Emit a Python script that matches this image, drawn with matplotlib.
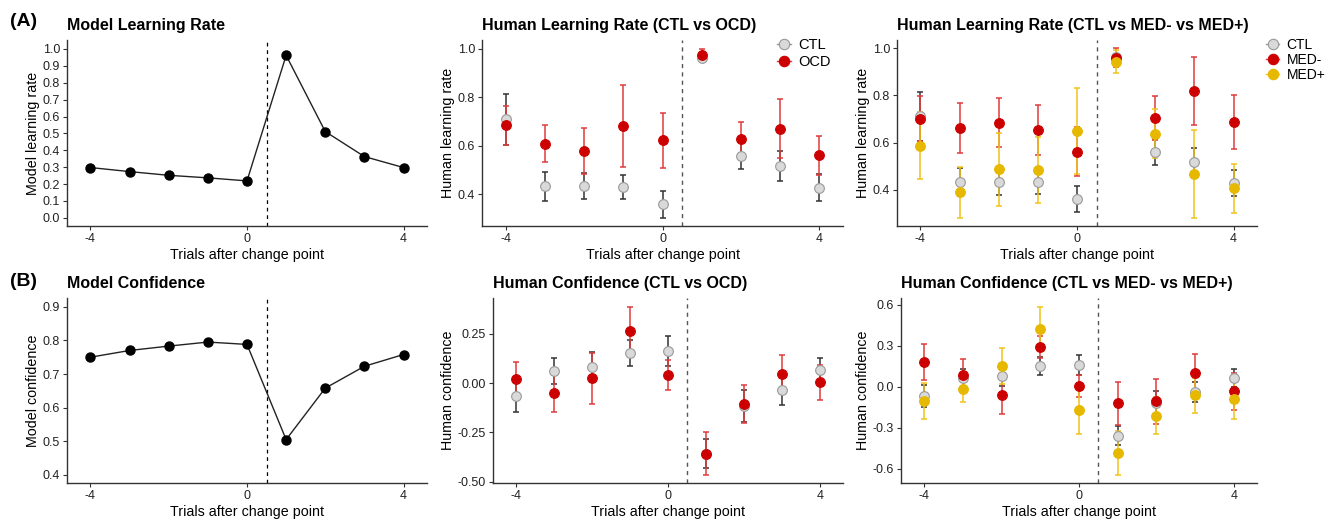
import matplotlib
matplotlib.use("Agg")
import matplotlib.pyplot as plt
from matplotlib.lines import Line2D

plt.rcParams['font.family'] = ['Liberation Sans', 'DejaVu Sans']
plt.rcParams['axes.unicode_minus'] = False

trials = [-4, -3, -2, -1, 0, 1, 2, 3, 4]

# model curves
model_lr = [0.298, 0.274, 0.252, 0.237, 0.219, 0.962, 0.511, 0.363, 0.298]
model_conf = [0.750, 0.770, 0.783, 0.795, 0.788, 0.505, 0.658, 0.723, 0.758]

# human learning rate: means and standard errors
lr_ctl = [0.711, 0.434, 0.434, 0.432, 0.360, 0.964, 0.560, 0.517, 0.428]
lr_ctl_se = [0.105, 0.060, 0.054, 0.049, 0.055, 0.012, 0.055, 0.062, 0.055]
lr_ocd = [0.685, 0.609, 0.579, 0.683, 0.624, 0.977, 0.627, 0.671, 0.562]
lr_ocd_se = [0.080, 0.077, 0.094, 0.168, 0.113, 0.023, 0.073, 0.121, 0.081]
lr_medm = [0.701, 0.661, 0.684, 0.655, 0.562, 0.959, 0.704, 0.820, 0.687]
lr_medm_se = [0.095, 0.106, 0.104, 0.106, 0.103, 0.040, 0.095, 0.144, 0.116]
lr_medp = [0.586, 0.389, 0.487, 0.484, 0.651, 0.943, 0.638, 0.467, 0.406]
lr_medp_se = [0.142, 0.107, 0.155, 0.140, 0.182, 0.050, 0.105, 0.186, 0.104]

# human confidence: means and standard errors
cf_ctl = [-0.065, 0.062, 0.081, 0.152, 0.162, -0.358, -0.117, -0.037, 0.065]
cf_ctl_se = [0.081, 0.066, 0.078, 0.065, 0.074, 0.072, 0.083, 0.072, 0.064]
cf_ocd = [0.021, -0.053, 0.023, 0.264, 0.040, -0.358, -0.107, 0.045, 0.003]
cf_ocd_se = [0.087, 0.094, 0.129, 0.123, 0.077, 0.109, 0.095, 0.097, 0.090]
cf_medm = [0.181, 0.083, -0.064, 0.289, 0.007, -0.122, -0.105, 0.100, -0.034]
cf_medm_se = [0.130, 0.120, 0.137, 0.080, 0.080, 0.155, 0.165, 0.140, 0.135]
cf_medp = [-0.105, -0.015, 0.152, 0.424, -0.171, -0.487, -0.211, -0.064, -0.091]
cf_medp_se = [0.130, 0.095, 0.133, 0.160, 0.174, 0.160, 0.134, 0.125, 0.148]

W, H = 1327, 520
fig = plt.figure(figsize=(W / 100, H / 100), dpi=100)

GREY_FILL = '#d9d9d9'
RED = '#cc0000'
GOLD = '#e6b800'


def make_ax(l, t, r, b):
    ax = fig.add_axes([l / W, 1 - b / H, (r - l) / W, (b - t) / H])
    for s in ['top', 'right']:
        ax.spines[s].set_visible(False)
    for s in ['left', 'bottom']:
        ax.spines[s].set_color('#333333')
        ax.spines[s].set_linewidth(1.0)
    ax.tick_params(labelsize=9, colors='#333333', length=3, width=0.8, pad=2)
    ax.tick_params(labelcolor='#222222')
    ax.set_xlim(-4.6, 4.6)
    ax.set_xticks([-4, 0, 4])
    ax.set_xlabel('Trials after change point', fontsize=10.3, labelpad=2)
    return ax


def model_panel(ax, values, title, ylabel):
    ax.axvline(0.5, color='black', ls='--', lw=0.9, dashes=(3, 3))
    ax.plot(trials, values, color='#222222', lw=1.0, marker='o', ms=6.5,
            mfc='black', mec='black', zorder=3)
    ax.set_title(title, loc='left', fontsize=11.5, fontweight='bold', pad=7)
    ax.set_ylabel(ylabel, fontsize=10.3, labelpad=2)


def group(ax, means, se, face, edge, ecol):
    ax.errorbar(trials, means, yerr=se, fmt='none', ecolor=ecol, elinewidth=1.1,
                capsize=2.5, capthick=1.1, zorder=2)
    ax.plot(trials, means, 'o', ms=7, mfc=face, mec=edge, mew=0.8, ls='none', zorder=3)


def human_panel(ax, title, ylabel):
    ax.axvline(0.5, color='#555555', ls='--', lw=1.0, dashes=(3, 3))
    ax.set_title(title, loc='left', fontsize=11.5, fontweight='bold', pad=7)
    ax.set_ylabel(ylabel, fontsize=10.3, labelpad=2)


# row A
ax1 = make_ax(67, 40, 427, 226)
model_panel(ax1, model_lr, 'Model Learning Rate', 'Model learning rate')
ax1.set_ylim(-0.048, 1.053)
ax1.set_yticks([i / 10 for i in range(11)])
ax1.set_yticklabels([f'{i / 10:.1f}' for i in range(11)])

ax2 = make_ax(482, 40, 843, 226)
human_panel(ax2, 'Human Learning Rate (CTL vs OCD)', 'Human learning rate')
group(ax2, lr_ctl, lr_ctl_se, GREY_FILL, '#999999', '#333333')
group(ax2, lr_ocd, lr_ocd_se, RED, RED, '#e03a3a')
ax2.set_ylim(0.27, 1.037)
ax2.set_yticks([0.4, 0.6, 0.8, 1.0])
ax2.set_yticklabels(['0.4', '0.6', '0.8', '1.0'])

ax3 = make_ax(897, 40, 1257, 226)
human_panel(ax3, 'Human Learning Rate (CTL vs MED- vs MED+)', 'Human learning rate')
group(ax3, lr_ctl, lr_ctl_se, GREY_FILL, '#999999', '#333333')
group(ax3, lr_medm, lr_medm_se, RED, RED, '#e03a3a')
group(ax3, lr_medp, lr_medp_se, GOLD, GOLD, '#f0c419')
ax3.set_ylim(0.247, 1.034)
ax3.set_yticks([0.4, 0.6, 0.8, 1.0])
ax3.set_yticklabels(['0.4', '0.6', '0.8', '1.0'])

# row B
ax4 = make_ax(67, 298, 427, 483)
model_panel(ax4, model_conf, 'Model Confidence', 'Model confidence')
ax4.set_ylim(0.376, 0.926)
ax4.set_yticks([0.4, 0.5, 0.6, 0.7, 0.8, 0.9])

ax5 = make_ax(493, 298, 843, 483)
human_panel(ax5, 'Human Confidence (CTL vs OCD)', 'Human confidence')
group(ax5, cf_ctl, cf_ctl_se, GREY_FILL, '#999999', '#333333')
group(ax5, cf_ocd, cf_ocd_se, RED, RED, '#e03a3a')
ax5.set_ylim(-0.507, 0.431)
ax5.set_yticks([-0.5, -0.25, 0.0, 0.25])
ax5.set_yticklabels(['-0.50', '-0.25', '0.00', '0.25'])

ax6 = make_ax(901, 298, 1257, 483)
human_panel(ax6, 'Human Confidence (CTL vs MED- vs MED+)', 'Human confidence')
group(ax6, cf_ctl, cf_ctl_se, GREY_FILL, '#999999', '#333333')
group(ax6, cf_medm, cf_medm_se, RED, RED, '#e03a3a')
group(ax6, cf_medp, cf_medp_se, GOLD, GOLD, '#f0c419')
ax6.set_ylim(-0.706, 0.651)
ax6.set_yticks([-0.6, -0.3, 0.0, 0.3, 0.6])
ax6.set_yticklabels(['-0.6', '-0.3', '0.0', '0.3', '0.6'])

# legends
def handle(face, edge, lcol):
    return Line2D([0], [0], color=lcol, lw=1.0, marker='o', ms=7.5, mfc=face, mec=edge, mew=0.8)

h_ctl = handle(GREY_FILL, '#999999', '#999999')
h_red = handle(RED, RED, '#e03a3a')
h_gold = handle(GOLD, GOLD, '#f0c419')

ax2.legend([h_ctl, h_red], ['CTL', 'OCD'], loc='upper left', bbox_to_anchor=(0.8, 1.04),
           frameon=False, fontsize=10.5, handlelength=1.0, handletextpad=0.5,
           labelspacing=0.2, borderaxespad=0)
fig.legend([h_ctl, h_red, h_gold], ['CTL', 'MED-', 'MED+'], loc='upper left',
           bbox_to_anchor=(1260 / W, 1 - 32 / H), frameon=False, fontsize=10,
           handlelength=1.0, handletextpad=0.5, labelspacing=0.1, borderaxespad=0)

fig.text(10 / W, 1 - 22 / H, '(A)', fontsize=14, fontweight='bold', va='center')
fig.text(10 / W, 1 - 282 / H, '(B)', fontsize=14, fontweight='bold', va='center')

fig.savefig('out.png', dpi=100)
